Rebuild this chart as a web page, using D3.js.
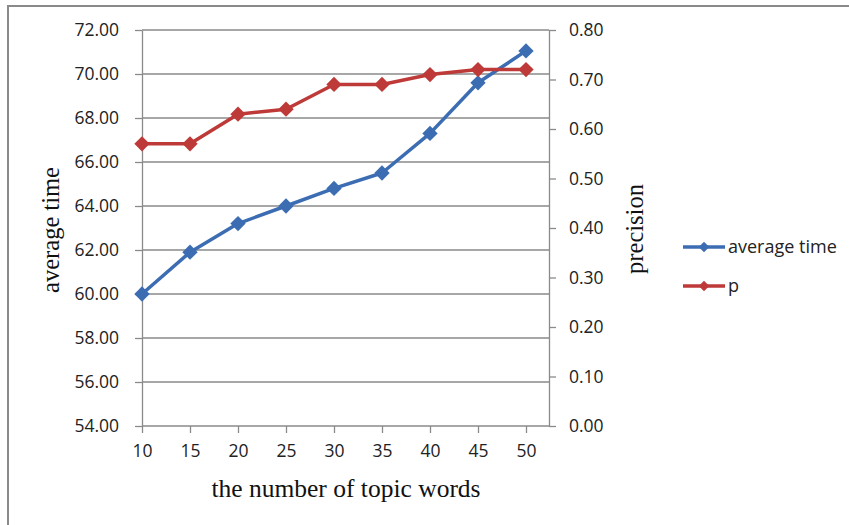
<!DOCTYPE html>
<html>
<head>
<meta charset="utf-8">
<script src="https://cdn.jsdelivr.net/npm/d3@7"></script>
<style>
  html, body { margin: 0; padding: 0; background: #fff; }
  svg { display: block; }
</style>
</head>
<body>
<svg id="chart" width="849" height="525"></svg>
<script>
// Number of topic words on the x axis
const topicWords = [10, 15, 20, 25, 30, 35, 40, 45, 50];
// Average time (left axis)
const averageTime = [60.0, 61.9, 63.2, 64.0, 64.8, 65.5, 67.3, 69.6, 71.05];
// Precision p (right axis)
const precision = [0.57, 0.57, 0.63, 0.64, 0.69, 0.69, 0.71, 0.72, 0.72];
// Tick values
const leftTicks = [54, 56, 58, 60, 62, 64, 66, 68, 70, 72];
const rightTicks = [0, 0.1, 0.2, 0.3, 0.4, 0.5, 0.6, 0.7, 0.8];

const svg = d3.select("#chart");
const gray = "#8a8a8a";
const blue = "#3c6db3";
const red = "#be3a38";
const tickFont = "'Open Sans', 'Noto Sans', sans-serif";
const serif = "'Liberation Serif', 'DejaVu Serif', serif";

const plot = { left: 142, right: 549, top: 30, bottom: 426 };

// Outer chart frame
svg.append("rect")
  .attr("x", 8).attr("y", 6).attr("width", 860).attr("height", 540)
  .attr("fill", "none").attr("stroke", gray).attr("stroke-width", 2);

const x = d3.scaleLinear().domain([10, 50]).range([plot.left, 526]);
const yL = d3.scaleLinear().domain([54, 72]).range([plot.bottom, plot.top]);
const yR = d3.scaleLinear().domain([0, 0.8]).range([plot.bottom, plot.top]);

// Horizontal gridlines
svg.append("g").selectAll("line").data(leftTicks.slice(1)).join("line")
  .attr("x1", plot.left).attr("x2", plot.right)
  .attr("y1", d => yL(d)).attr("y2", d => yL(d))
  .attr("stroke", gray).attr("stroke-width", 1.3);

function styleAxis(g) {
  g.select(".domain").attr("stroke", gray).attr("stroke-width", 1.3);
  g.selectAll(".tick line").attr("stroke", gray).attr("stroke-width", 1.3);
  g.selectAll(".tick text")
    .attr("fill", "#222")
    .style("font-family", tickFont)
    .style("font-size", "17.5px");
}

// Left axis
svg.append("g")
  .attr("transform", `translate(${plot.left},0)`)
  .call(d3.axisLeft(yL).tickValues(leftTicks).tickFormat(d3.format(".2f"))
    .tickSize(7).tickSizeOuter(0).tickPadding(16))
  .call(styleAxis);

// Right axis
svg.append("g")
  .attr("transform", `translate(${plot.right},0)`)
  .call(d3.axisRight(yR).tickValues(rightTicks).tickFormat(d3.format(".2f"))
    .tickSize(7).tickSizeOuter(0).tickPadding(13))
  .call(styleAxis);

// Bottom axis
const xAxis = svg.append("g")
  .attr("transform", `translate(0,${plot.bottom})`)
  .call(d3.axisBottom(x).tickValues(topicWords).tickFormat(d3.format("d"))
    .tickSize(7).tickSizeOuter(0).tickPadding(12))
  .call(styleAxis);
xAxis.select(".domain").attr("d", `M${plot.left},0H${plot.right}`);

// Axis titles
svg.append("text")
  .attr("transform", `translate(59,230) rotate(-90)`)
  .attr("text-anchor", "middle")
  .style("font-family", serif).style("font-size", "24.5px").attr("fill", "#111")
  .text("average time");
svg.append("text")
  .attr("transform", `translate(643,229) rotate(-90)`)
  .attr("text-anchor", "middle")
  .style("font-family", serif).style("font-size", "24.5px").attr("fill", "#111")
  .text("precision");
svg.append("text")
  .attr("x", 346).attr("y", 497)
  .attr("text-anchor", "middle")
  .style("font-family", serif).style("font-size", "25.5px").attr("fill", "#111")
  .text("the number of topic words");

const diamond = d3.symbol().type(d3.symbolDiamond2).size(150);

function drawSeries(values, yScale, color) {
  const pts = topicWords.map((t, i) => [x(t), yScale(values[i])]);
  svg.append("path")
    .attr("d", d3.line()(pts))
    .attr("fill", "none").attr("stroke", color).attr("stroke-width", 3.5)
    .attr("stroke-linejoin", "round");
  svg.append("g").selectAll("path").data(pts).join("path")
    .attr("transform", d => `translate(${d[0]},${d[1]})`)
    .attr("d", diamond)
    .attr("fill", color);
}

drawSeries(averageTime, yL, blue);
drawSeries(precision, yR, red);

// Legend
const legend = [
  { name: "average time", color: blue, y: 247 },
  { name: "p", color: red, y: 286 }
];
const lg = svg.append("g");
legend.forEach(l => {
  lg.append("line")
    .attr("x1", 683).attr("x2", 725).attr("y1", l.y).attr("y2", l.y)
    .attr("stroke", l.color).attr("stroke-width", 3.5);
  lg.append("path")
    .attr("transform", `translate(704,${l.y})`)
    .attr("d", d3.symbol().type(d3.symbolDiamond2).size(70))
    .attr("fill", l.color);
  lg.append("text")
    .attr("x", 728).attr("y", l.y).attr("dy", "0.35em")
    .style("font-family", tickFont).style("font-size", "18px").attr("fill", "#222")
    .text(l.name);
});
</script>
</body>
</html>
